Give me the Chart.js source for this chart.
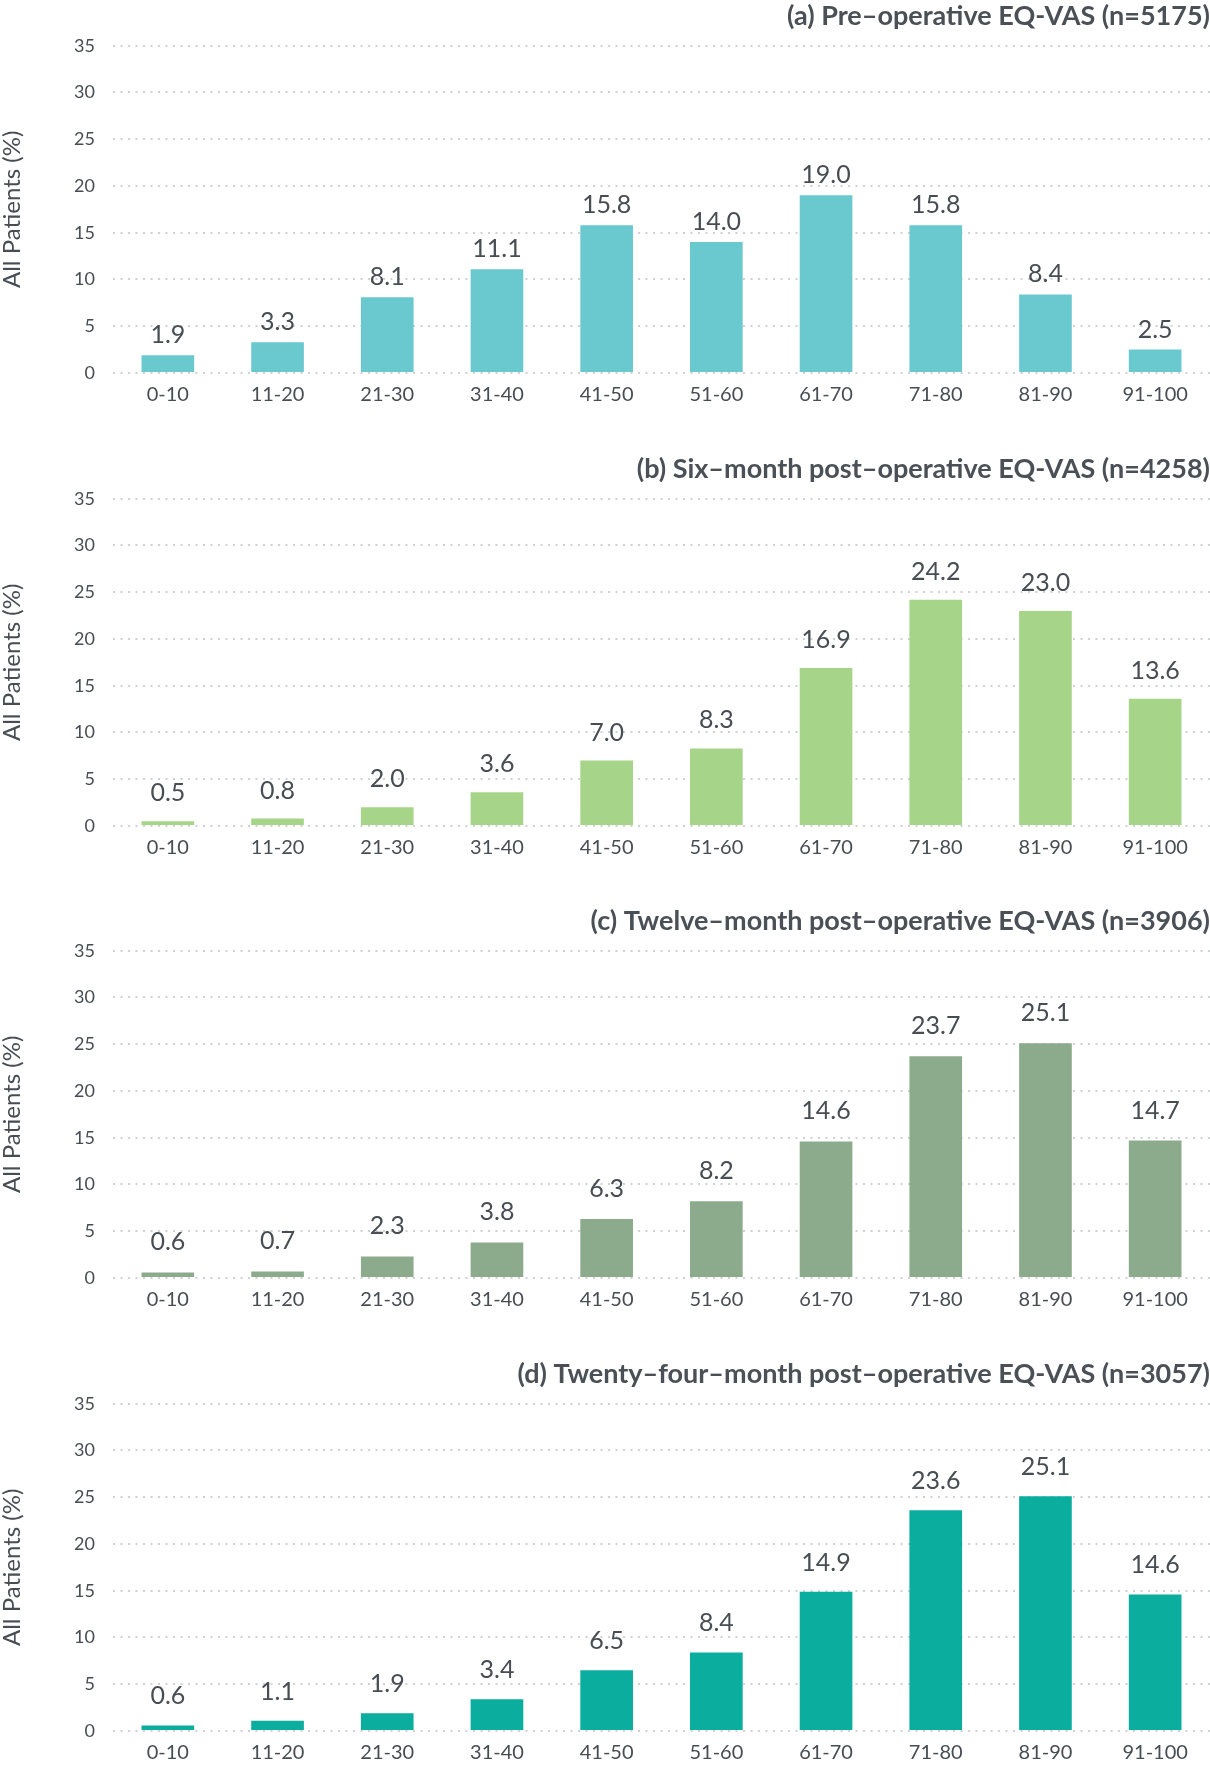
<!DOCTYPE html>
<html>
<head>
<meta charset="utf-8">
<script src="https://cdn.jsdelivr.net/npm/chart.js@4/dist/chart.umd.min.js"></script>
<style>
  body { margin: 0; background: #fff; }
  .panel { position: absolute; left: 0; width: 1210px; height: 407px; }
</style>
</head>
<body>
<div class="panel" style="top:0px"><canvas id="chart-a"></canvas></div>
<div class="panel" style="top:453px"><canvas id="chart-b"></canvas></div>
<div class="panel" style="top:905px"><canvas id="chart-c"></canvas></div>
<div class="panel" style="top:1358px"><canvas id="chart-d"></canvas></div>
<script>
const categories = ["0-10", "11-20", "21-30", "31-40", "41-50", "51-60", "61-70", "71-80", "81-90", "91-100"];
const yTicks = [0, 5, 10, 15, 20, 25, 30, 35];

const preOp = [1.9, 3.3, 8.1, 11.1, 15.8, 14.0, 19.0, 15.8, 8.4, 2.5];
const sixMonth = [0.5, 0.8, 2.0, 3.6, 7.0, 8.3, 16.9, 24.2, 23.0, 13.6];
const twelveMonth = [0.6, 0.7, 2.3, 3.8, 6.3, 8.2, 14.6, 23.7, 25.1, 14.7];
const twentyFourMonth = [0.6, 1.1, 1.9, 3.4, 6.5, 8.4, 14.9, 23.6, 25.1, 14.6];

const textColor = "#474d53";
const titleColor = "#4a5056";
const gridColor = "#cfd2d4";

// draws the value above each bar
const valueLabels = {
  id: "valueLabels",
  afterDatasetsDraw(chart, args, opts) {
    const ctx = chart.ctx;
    const meta = chart.getDatasetMeta(0);
    ctx.save();
    ctx.font = "25px Lato";
    ctx.fillStyle = textColor;
    ctx.textAlign = "center";
    ctx.textBaseline = "alphabetic";
    meta.data.forEach((bar, i) => {
      const v = chart.data.datasets[0].data[i];
      ctx.fillText(v.toFixed(1), bar.x, bar.y - opts.gap);
    });
    ctx.restore();
  },
};

const makeChart = (id, title, values, color, gap) => {
  return new Chart(document.getElementById(id), {
    type: "bar",
    data: {
      labels: categories,
      datasets: [
        {
          data: values,
          backgroundColor: color,
          borderWidth: 0,
          barPercentage: 0.48,
          categoryPercentage: 1,
        },
      ],
    },
    options: {
      responsive: true,
      maintainAspectRatio: false,
      animation: false,
      layout: { padding: { top: 0, bottom: 1, left: 0, right: 0 } },
      plugins: {
        legend: { display: false },
        tooltip: { enabled: false },
        title: {
          display: true,
          text: title,
          align: "end",
          color: titleColor,
          font: { family: "Lato", size: 27, weight: "bold", lineHeight: 1.1 },
          padding: { top: 1, bottom: 15 },
        },
        valueLabels: { gap: gap },
      },
      scales: {
        x: {
          grid: { display: false, drawTicks: false },
          border: { display: false },
          afterFit: (scale) => {
            scale.height = 33;
          },
          ticks: {
            color: textColor,
            padding: 10,
            font: { family: "Lato", size: 20 },
          },
        },
        y: {
          min: 0,
          max: 35,
          afterBuildTicks: (scale) => {
            scale.ticks = yTicks.map((v) => ({ value: v }));
          },
          afterFit: (scale) => {
            scale.width = 113;
          },
          grid: { color: gridColor, lineWidth: 2, drawTicks: false },
          border: { display: false, dash: [2, 5.5] },
          ticks: {
            color: textColor,
            padding: 18,
            font: { family: "Lato", size: 18 },
          },
          title: {
            display: true,
            text: "All Patients (%)",
            color: textColor,
            padding: 0,
            font: { family: "Lato", size: 24, lineHeight: 1 },
          },
        },
      },
    },
    plugins: [valueLabels],
  });
};

makeChart("chart-a", "(a) Pre\u2013operative EQ-VAS (n=5175)", preOp, "#6ac9cf", 12);
makeChart("chart-b", "(b) Six\u2013month post\u2013operative EQ-VAS (n=4258)", sixMonth, "#a6d489", 20);
makeChart("chart-c", "(c) Twelve\u2013month post\u2013operative EQ-VAS (n=3906)", twelveMonth, "#8caa8c", 22);
makeChart("chart-d", "(d) Twenty\u2013four\u2013month post\u2013operative EQ-VAS (n=3057)", twentyFourMonth, "#0aad9e", 21);
</script>
</body>
</html>
